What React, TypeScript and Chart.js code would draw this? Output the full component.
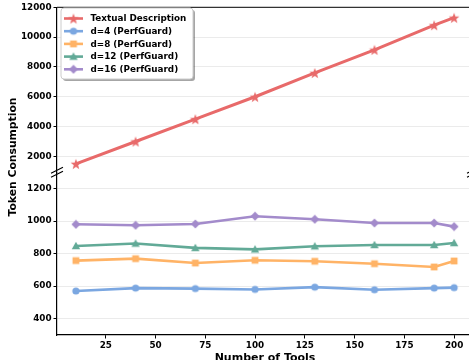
import React, { useEffect, useRef } from 'react';
import { Chart, registerables } from 'chart.js';

Chart.register(...registerables);

const toolCounts = [10, 40, 70, 100, 130, 160, 190, 200];
const textualDescription = [1500, 3000, 4500, 6000, 7600, 9150, 10800, 11300];
const perfGuardD4 = [570, 588, 585, 580, 594, 578, 588, 591];
const perfGuardD8 = [757, 769, 742, 759, 753, 738, 718, 755];
const perfGuardD12 = [847, 862, 835, 826, 845, 853, 853, 865];
const perfGuardD16 = [980, 974, 982, 1030, 1011, 988, 988, 966];

const seriesLabels = [
  'Textual Description',
  'd=4 (PerfGuard)',
  'd=8 (PerfGuard)',
  'd=12 (PerfGuard)',
  'd=16 (PerfGuard)',
];
const seriesColors = ['#E86A6A', '#7BA7E1', '#FFB366', '#62AA97', '#A38BCB'];
const seriesMarkers = ['star', 'circle', 'square', 'triangle', 'diamond'];

const xTicks = [25, 50, 75, 100, 125, 150, 175, 200];
const upperTicks = [2000, 4000, 6000, 8000, 10000, 12000];
const lowerTicks = [400, 600, 800, 1000, 1200];

const xTitle = 'Number of Tools';
const yTitle = 'Token Consumption';

const FONT = '"DejaVu Sans", sans-serif';

function makeMarker(shape: string, color: string): HTMLCanvasElement {
  const size = shape === 'star' ? 12 : 10;
  const c = document.createElement('canvas');
  c.width = size;
  c.height = size;
  const ctx = c.getContext('2d')!;
  const cx = size / 2;
  const cy = size / 2;
  ctx.fillStyle = color;
  ctx.beginPath();
  if (shape === 'circle') {
    ctx.arc(cx, cy, 3.6, 0, Math.PI * 2);
  } else if (shape === 'square') {
    ctx.rect(cx - 3.4, cy - 3.4, 6.8, 6.8);
  } else if (shape === 'triangle') {
    ctx.moveTo(cx, cy - 4.2);
    ctx.lineTo(cx + 4.2, cy + 3.2);
    ctx.lineTo(cx - 4.2, cy + 3.2);
    ctx.closePath();
  } else if (shape === 'diamond') {
    ctx.moveTo(cx, cy - 4.5);
    ctx.lineTo(cx + 4.5, cy);
    ctx.lineTo(cx, cy + 4.5);
    ctx.lineTo(cx - 4.5, cy);
    ctx.closePath();
  } else {
    const outer = 5.6;
    const inner = 2.3;
    for (let i = 0; i < 10; i++) {
      const r = i % 2 === 0 ? outer : inner;
      const a = -Math.PI / 2 + (i * Math.PI) / 5;
      const px = cx + r * Math.cos(a);
      const py = cy + 0.6 + r * Math.sin(a);
      if (i === 0) ctx.moveTo(px, py);
      else ctx.lineTo(px, py);
    }
    ctx.closePath();
  }
  ctx.fill();
  return c;
}

export default function App() {
  const canvasRef = useRef<HTMLCanvasElement | null>(null);

  useEffect(() => {
    const canvas = canvasRef.current;
    if (!canvas) return;
    const markers = seriesMarkers.map((m, i) => makeMarker(m, seriesColors[i]));
    const allSeries = [textualDescription, perfGuardD4, perfGuardD8, perfGuardD12, perfGuardD16];

    const datasets = allSeries.map((vals, i) => ({
      label: seriesLabels[i],
      data: toolCounts.map((x, j) => ({ x, y: vals[j] })),
      borderColor: seriesColors[i],
      backgroundColor: seriesColors[i],
      borderWidth: i === 0 ? 3 : 2.6,
      pointStyle: markers[i] as any,
      pointRadius: 4,
      pointHoverRadius: 4,
      tension: 0,
      yAxisID: i === 0 ? 'yTop' : 'yBot',
    }));

    const decorPlugin = {
      id: 'decor',
      afterDraw(chart: any) {
        const ctx = chart.ctx as CanvasRenderingContext2D;
        const a = chart.chartArea;
        ctx.save();
        // top and right spines
        ctx.strokeStyle = '#333';
        ctx.lineWidth = 1.2;
        ctx.beginPath();
        ctx.moveTo(a.left, a.top);
        ctx.lineTo(a.right, a.top);
        ctx.moveTo(a.right, a.top);
        ctx.lineTo(a.right, a.bottom);
        ctx.stroke();

        // break marks
        const yTop = chart.scales.yTop;
        const b1 = yTop.bottom - 2;
        const b2 = yTop.bottom + 2;
        ctx.strokeStyle = '#000';
        ctx.lineWidth = 1.1;
        ctx.beginPath();
        [a.left, a.right].forEach((x: number) => {
          [b1, b2].forEach((y: number) => {
            ctx.moveTo(x - 6, y + 3);
            ctx.lineTo(x + 6, y - 3);
          });
        });
        ctx.stroke();

        // axis titles
        ctx.fillStyle = '#000';
        ctx.font = `bold 11px ${FONT}`;
        ctx.textAlign = 'center';
        ctx.textBaseline = 'alphabetic';
        ctx.fillText(xTitle, (a.left + a.right) / 2, 361);
        ctx.save();
        ctx.translate(16, 157);
        ctx.rotate(-Math.PI / 2);
        ctx.font = `bold 10.8px ${FONT}`;
        ctx.textBaseline = 'alphabetic';
        ctx.fillText(yTitle, 0, 0);
        ctx.restore();

        // legend
        const lx = 61;
        const ly = 8;
        const lw = 132;
        const lh = 71;
        const r = 3;
        const roundRect = (x: number, y: number, w: number, h: number) => {
          ctx.beginPath();
          ctx.moveTo(x + r, y);
          ctx.lineTo(x + w - r, y);
          ctx.quadraticCurveTo(x + w, y, x + w, y + r);
          ctx.lineTo(x + w, y + h - r);
          ctx.quadraticCurveTo(x + w, y + h, x + w - r, y + h);
          ctx.lineTo(x + r, y + h);
          ctx.quadraticCurveTo(x, y + h, x, y + h - r);
          ctx.lineTo(x, y + r);
          ctx.quadraticCurveTo(x, y, x + r, y);
          ctx.closePath();
        };
        ctx.fillStyle = 'rgba(0,0,0,0.35)';
        roundRect(lx + 2, ly + 2, lw, lh);
        ctx.fill();
        ctx.fillStyle = '#ffffff';
        roundRect(lx, ly, lw, lh);
        ctx.fill();
        ctx.strokeStyle = '#cccccc';
        ctx.lineWidth = 1;
        ctx.stroke();

        ctx.font = `bold 8.8px ${FONT}`;
        ctx.textAlign = 'left';
        ctx.textBaseline = 'middle';
        seriesLabels.forEach((label, i) => {
          const y = 18.5 + i * 12.7;
          ctx.strokeStyle = seriesColors[i];
          ctx.lineWidth = 2.6;
          ctx.beginPath();
          ctx.moveTo(64, y);
          ctx.lineTo(83, y);
          ctx.stroke();
          const m = markers[i];
          ctx.drawImage(m, 73.5 - m.width / 2, y - m.height / 2);
          ctx.fillStyle = '#000';
          ctx.fillText(label, 90.5, y + 0.5);
        });
        ctx.restore();
      },
    };

    const tickFont = { family: FONT, size: 8.8, weight: 'bold' as const };
    const plain = (v: any) => String(v);

    const chart = new Chart(canvas, {
      type: 'line',
      data: { datasets: datasets as any },
      options: {
        animation: false,
        responsive: false,
        maintainAspectRatio: false,
        layout: { padding: { left: 0, right: 7, top: 6, bottom: 0 } },
        plugins: {
          legend: { display: false },
          tooltip: { enabled: false },
        },
        scales: {
          x: {
            type: 'linear',
            min: 0.5,
            max: 209.5,
            grid: {
              drawOnChartArea: false,
              drawTicks: true,
              tickLength: 3.5,
              tickColor: '#000',
            },
            border: { color: '#000', width: 1.2 },
            ticks: { font: tickFont, color: '#000', padding: 1.5, maxRotation: 0, callback: plain },
            afterBuildTicks: (scale: any) => {
              scale.ticks = xTicks.map((v) => ({ value: v }));
            },
            afterFit: (scale: any) => {
              scale.height = 25;
            },
          },
          yBot: {
            type: 'linear',
            position: 'left',
            stack: 'broken',
            stackWeight: 163.5,
            min: 300,
            max: 1300.6,
            grid: {
              color: '#ebebeb',
              lineWidth: 1,
              tickLength: 3.5,
              tickColor: '#000',
            },
            border: { color: '#000', width: 1.2 },
            ticks: { font: tickFont, color: '#000', padding: 2, callback: plain },
            afterBuildTicks: (scale: any) => {
              scale.ticks = lowerTicks.map((v) => ({ value: v }));
            },
            afterFit: (scale: any) => {
              scale.width = 57;
            },
          },
          yTop: {
            type: 'linear',
            position: 'left',
            stack: 'broken',
            stackWeight: 165.5,
            min: 945,
            max: 12000,
            grid: {
              color: '#ebebeb',
              lineWidth: 1,
              tickLength: 3.5,
              tickColor: '#000',
            },
            border: { color: '#000', width: 1.2 },
            ticks: { font: tickFont, color: '#000', padding: 2, callback: plain },
            afterBuildTicks: (scale: any) => {
              scale.ticks = upperTicks.map((v) => ({ value: v }));
            },
            afterFit: (scale: any) => {
              scale.width = 57;
            },
          },
        } as any,
      },
      plugins: [decorPlugin],
    });

    return () => {
      chart.destroy();
    };
  }, []);

  return (
    <div
      style={{
        position: 'fixed',
        left: 0,
        top: 0,
        width: 469,
        height: 360,
        overflow: 'hidden',
        background: '#fff',
      }}
    >
      <canvas
        ref={canvasRef}
        width={480}
        height={360}
        style={{ display: 'block', width: 480, height: 360 }}
      />
    </div>
  );
}
